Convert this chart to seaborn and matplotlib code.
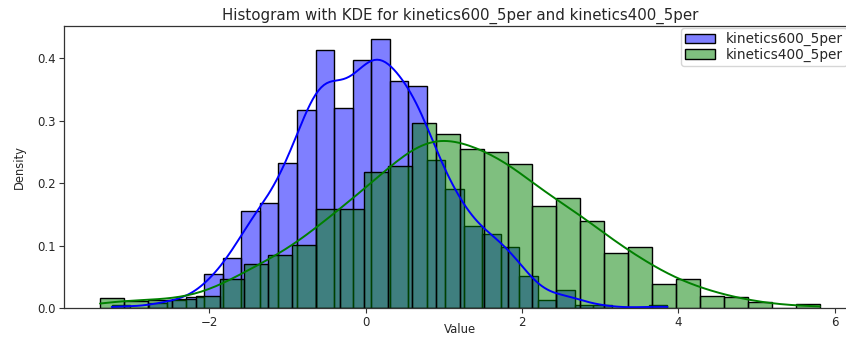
import numpy as np
import pandas as pd
import matplotlib
matplotlib.use("Agg")
import matplotlib.pyplot as plt
import seaborn as sns

# Bin ranges (30 bins each) and per-bin densities for both runs
k600_range = (-3.25, 3.86)
k600_density = [0.0045, 0.0, 0.0085, 0.0127, 0.0175, 0.0547, 0.0797, 0.156, 0.169, 0.233,
                0.3176, 0.4136, 0.321, 0.3976, 0.4307, 0.363, 0.355, 0.2376, 0.1907, 0.132,
                0.1192, 0.0973, 0.051, 0.0125, 0.0296, 0.0056, 0.005, 0.0, 0.0, 0.005]

k400_range = (-3.40, 5.81)
k400_density = [0.0163, 0.011, 0.0136, 0.0145, 0.019, 0.0467, 0.0707, 0.085, 0.1005, 0.159,
                0.159, 0.218, 0.228, 0.2963, 0.2792, 0.2547, 0.2504, 0.2312, 0.1629, 0.1757,
                0.14, 0.0883, 0.0973, 0.0387, 0.0467, 0.02, 0.0173, 0.0093, 0.0, 0.0067]

series_names = ["kinetics600_5per", "kinetics400_5per"]
series_colors = ["blue", "green"]
kde_bw = [0.38, 0.45]

sns.set_style("white")
plt.rcParams["font.family"] = ["DejaVu Sans"]

fig = plt.figure(figsize=(8.46, 3.37), dpi=100)
ax = fig.add_axes([0.0757, 0.0860, 0.936, 0.8378])

for name, color, rng, dens, bw in zip(series_names, series_colors,
                                      [k600_range, k400_range],
                                      [k600_density, k400_density], kde_bw):
    edges = np.linspace(rng[0], rng[1], len(dens) + 1)
    centers = (edges[:-1] + edges[1:]) / 2
    df = pd.DataFrame({"value": centers, "w": dens})
    sns.histplot(data=df, x="value", weights="w", bins=edges.tolist(), stat="density",
                 kde=True, color=color, alpha=0.5, edgecolor="black", linewidth=1.0,
                 kde_kws=dict(bw_adjust=bw, cut=3, clip=(edges[0], edges[-1])),
                 line_kws=dict(linewidth=1.4), label=name, ax=ax)

for s in ax.spines.values():
    s.set_visible(True)
    s.set_color("#333333")
    s.set_linewidth(0.9)

ax.tick_params(axis="both", which="both", length=3.5, width=0.8, labelsize=8.5,
               pad=2.5, bottom=True, left=True, color="#333333")
ax.set_xticks([-2, 0, 2, 4, 6])
ax.set_yticks([0.0, 0.1, 0.2, 0.3, 0.4])
ax.set_title("Histogram with KDE for kinetics600_5per and kinetics400_5per",
             fontsize=10.8, pad=4)
ax.set_xlabel("Value", fontsize=8.4, va="center")
ax.xaxis.set_label_coords(0.5, -(329.5 - 308.2) / 282.3)
ax.set_ylabel("Density", fontsize=8.3, labelpad=8)
ax.legend(loc="upper right", fontsize=9.8, handlelength=2.2, handletextpad=0.8,
          labelspacing=0.1, borderpad=0.3, borderaxespad=0,
          bbox_to_anchor=(847 / 846, 1 - 28 / 337), bbox_transform=fig.transFigure)

fig.savefig("out.png", dpi=100)
